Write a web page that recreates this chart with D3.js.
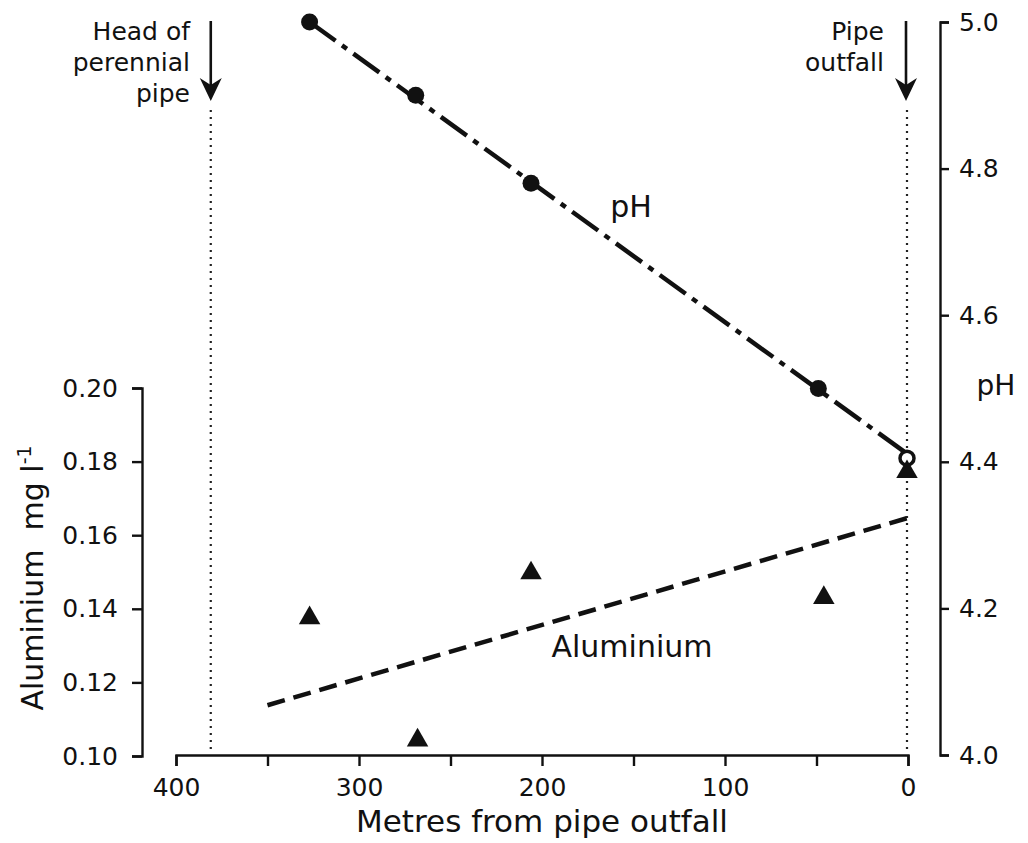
<!DOCTYPE html>
<html>
<head>
<meta charset="utf-8">
<script src="https://cdn.jsdelivr.net/npm/d3@7"></script>
<style>
  body { margin: 0; background: #fff; }
  text { font-family: "DejaVu Sans", "Liberation Sans", sans-serif; fill: #111; }
</style>
</head>
<body>
<div id="chart"></div>
<script>
// distances (m from pipe outfall)
const phDist = [327, 269, 206, 49, 0];
const phValues = [5.0, 4.90, 4.78, 4.50, 4.405];
const alDist = [327, 268, 206, 46, 0];
const alValues = [0.1375, 0.1043, 0.1497, 0.143, 0.1772];

// fitted lines: [distance, value]
const phFit = [[327, 5.0], [0, 4.41]];
const alFit = [[350, 0.1138], [0, 0.1647]];

const xTicks = [400, 350, 300, 250, 200, 150, 100, 50, 0];
const xLabels = [400, 300, 200, 100, 0];
const alTicks = [0.10, 0.12, 0.14, 0.16, 0.18, 0.20];
const phTicks = [4.0, 4.2, 4.4, 4.6, 4.8, 5.0];
const headOfPipe = 381;

const width = 1028, height = 843;
const svg = d3.select("#chart").append("svg")
  .attr("width", width)
  .attr("height", height);

const x = d3.scaleLinear().domain([400, 0]).range([176, 908]);
const yAl = d3.scaleLinear().domain([0.10, 0.20]).range([756, 388]);
const yPh = d3.scaleLinear().domain([4.0, 5.0]).range([755, 22]);

// x axis
svg.append("g")
  .attr("transform", "translate(0,755)")
  .call(d3.axisBottom(x).tickValues(xTicks).tickSize(11).tickSizeOuter(11)
    .tickPadding(12)
    .tickFormat(d => xLabels.includes(d) ? d3.format("d")(d) : ""));

// left axis (aluminium)
svg.append("g")
  .attr("transform", "translate(142,0)")
  .call(d3.axisLeft(yAl).tickValues(alTicks).tickSize(10).tickSizeOuter(10)
    .tickPadding(14).tickFormat(d3.format(".2f")));

// right axis (pH)
svg.append("g")
  .attr("transform", "translate(940,0)")
  .call(d3.axisRight(yPh).tickValues(phTicks).tickSize(9).tickSizeOuter(9)
    .tickPadding(10).tickFormat(d3.format(".1f")));

svg.selectAll(".tick text").attr("font-size", 25);
svg.selectAll("g").attr("font-family", null);
svg.selectAll(".domain, .tick line").attr("stroke", "#111").attr("stroke-width", 2.4);

// axis titles
svg.append("text")
  .attr("x", 542).attr("y", 832)
  .attr("text-anchor", "middle")
  .attr("font-size", 31)
  .text("Metres from pipe outfall");

const alTitle = svg.append("text")
  .attr("transform", "translate(43,578) rotate(-90)")
  .attr("text-anchor", "middle")
  .attr("font-size", 30);
alTitle.append("tspan").text("Aluminium\u00a0\u00a0mg l");
alTitle.append("tspan").attr("dy", -12).attr("font-size", 19).text("-1");

svg.append("text")
  .attr("x", 996).attr("y", 395)
  .attr("text-anchor", "middle")
  .attr("font-size", 28)
  .text("pH");

// dotted verticals
[headOfPipe, 0].forEach(d => {
  svg.append("line")
    .attr("x1", x(d) - (d === 0 ? 1 : 0)).attr("x2", x(d) - (d === 0 ? 1 : 0))
    .attr("y1", 110).attr("y2", 752)
    .attr("stroke", "#222").attr("stroke-width", 2.2)
    .attr("stroke-dasharray", "2,5");
});

// arrows
[headOfPipe, 0].forEach(d => {
  const ax = x(d) - (d === 0 ? 2 : 0);
  svg.append("line")
    .attr("x1", ax).attr("x2", ax)
    .attr("y1", 21).attr("y2", 86)
    .attr("stroke", "#111").attr("stroke-width", 2.6);
  svg.append("path")
    .attr("d", `M${ax - 11},78 L${ax},101 L${ax + 11},78 L${ax},85 Z`)
    .attr("fill", "#111");
});

// annotations
const headText = svg.append("text")
  .attr("text-anchor", "end")
  .attr("font-size", 25);
["Head of", "perennial", "pipe"].forEach((t, i) => {
  headText.append("tspan").attr("x", 190).attr("y", 40 + i * 31).text(t);
});
const outText = svg.append("text")
  .attr("text-anchor", "end")
  .attr("font-size", 25);
["Pipe", "outfall"].forEach((t, i) => {
  outText.append("tspan").attr("x", 884).attr("y", 40 + i * 31).text(t);
});

// fitted lines
const phLine = d3.line().x(d => x(d[0])).y(d => yPh(d[1]));
svg.append("path")
  .datum(phFit)
  .attr("d", phLine)
  .attr("fill", "none")
  .attr("stroke", "#111")
  .attr("stroke-width", 4.5)
  .attr("stroke-dasharray", "32,8,6,8");

const alLine = d3.line().x(d => x(d[0])).y(d => yAl(d[1]));
svg.append("path")
  .datum(alFit)
  .attr("d", alLine)
  .attr("fill", "none")
  .attr("stroke", "#111")
  .attr("stroke-width", 4.5)
  .attr("stroke-dasharray", "18,9");

// pH points
svg.selectAll(".ph")
  .data(phDist.map((d, i) => [d, phValues[i]]))
  .enter().append("circle")
  .attr("class", "ph")
  .attr("cx", d => x(d[0]) - (d[0] === 0 ? 1 : 0))
  .attr("cy", d => yPh(d[1]))
  .attr("r", d => d[0] === 0 ? 7 : 8.5)
  .attr("fill", d => d[0] === 0 ? "#fff" : "#111")
  .attr("stroke", "#111")
  .attr("stroke-width", d => d[0] === 0 ? 3.5 : 0);

// aluminium points
const tri = d3.symbol().type(d3.symbolTriangle).size(200);
svg.selectAll(".al")
  .data(alDist.map((d, i) => [d, alValues[i]]))
  .enter().append("path")
  .attr("class", "al")
  .attr("d", tri)
  .attr("transform", d => `translate(${x(d[0]) - (d[0] === 0 ? 1 : 0)},${yAl(d[1])})`)
  .attr("fill", "#111");

// series labels
svg.append("text")
  .attr("x", 631).attr("y", 217)
  .attr("text-anchor", "middle")
  .attr("font-size", 30)
  .text("pH");
svg.append("text")
  .attr("x", 632).attr("y", 657)
  .attr("text-anchor", "middle")
  .attr("font-size", 30)
  .text("Aluminium");
</script>
</body>
</html>
